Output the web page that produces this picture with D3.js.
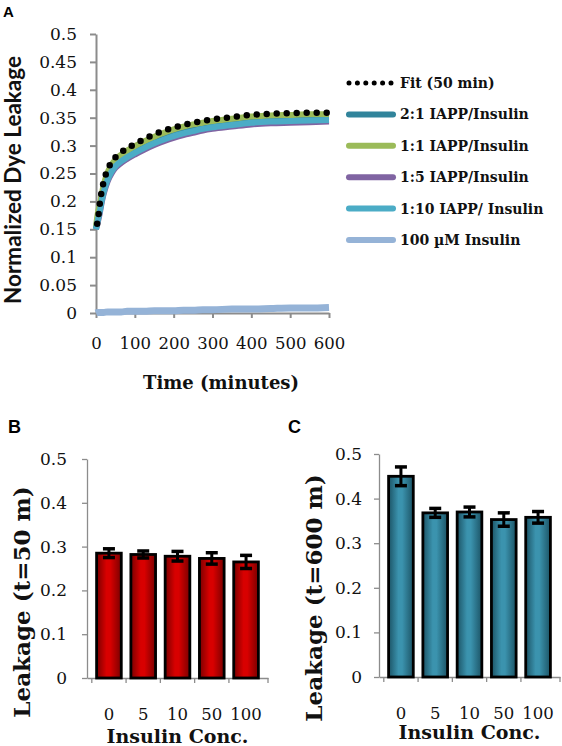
<!DOCTYPE html>
<html><head><meta charset="utf-8">
<script src="https://cdn.jsdelivr.net/npm/d3@7"></script>
<style>body{margin:0;background:#fff}svg{display:block}</style>
</head><body>
<script>
// ---------- data ----------
const timeFit  = [3, 6, 10, 15, 20, 30, 40, 50, 65, 80, 100, 125, 150, 175, 200, 225, 250, 275, 300, 350, 400, 450, 500, 550, 600];
const fitValues = [0.160, 0.173, 0.197, 0.220, 0.236, 0.257, 0.270, 0.279, 0.288, 0.295, 0.303, 0.312, 0.320, 0.327, 0.332, 0.337, 0.341, 0.344, 0.347, 0.351, 0.355, 0.357, 0.358, 0.359, 0.359];
const timeData = [0, 5, 10, 15, 20, 30, 40, 50, 65, 80, 100, 125, 150, 175, 200, 225, 250, 275, 300, 350, 400, 450, 500, 550, 600];
const ratio2to1  = [0.152, 0.172, 0.188, 0.207, 0.222, 0.244, 0.258, 0.268, 0.277, 0.284, 0.292, 0.301, 0.309, 0.316, 0.322, 0.327, 0.331, 0.335, 0.338, 0.342, 0.346, 0.348, 0.349, 0.350, 0.351];
const ratio1to1  = [0.155, 0.180, 0.195, 0.214, 0.230, 0.252, 0.266, 0.275, 0.284, 0.291, 0.299, 0.308, 0.316, 0.323, 0.329, 0.334, 0.338, 0.341, 0.344, 0.348, 0.352, 0.354, 0.355, 0.356, 0.356];
const ratio1to5  = [0.150, 0.164, 0.180, 0.199, 0.214, 0.236, 0.250, 0.260, 0.269, 0.276, 0.284, 0.293, 0.301, 0.308, 0.314, 0.319, 0.323, 0.327, 0.330, 0.334, 0.338, 0.340, 0.341, 0.342, 0.343];
const ratio1to10 = [0.150, 0.167, 0.183, 0.202, 0.217, 0.239, 0.253, 0.263, 0.272, 0.279, 0.287, 0.296, 0.304, 0.311, 0.317, 0.322, 0.326, 0.330, 0.333, 0.337, 0.341, 0.343, 0.344, 0.345, 0.346];
const insulinOnly = [0.000, 0.001, 0.001, 0.001, 0.001, 0.002, 0.002, 0.002, 0.002, 0.003, 0.003, 0.003, 0.004, 0.004, 0.004, 0.005, 0.005, 0.006, 0.006, 0.007, 0.007, 0.008, 0.009, 0.009, 0.010];
const legendNames = ["Fit (50 min)", "2:1 IAPP/Insulin", "1:1 IAPP/Insulin", "1:5 IAPP/Insulin", "1:10 IAPP/ Insulin", "100 \u00B5M Insulin"];
const yTicksA = [0, 0.05, 0.1, 0.15, 0.2, 0.25, 0.3, 0.35, 0.4, 0.45, 0.5];
const xTicksA = [0, 100, 200, 300, 400, 500, 600];

const concentrations = ["0", "5", "10", "50", "100"];
const leak50 = [0.285, 0.282, 0.278, 0.273, 0.265];
const leak50Err = [0.010, 0.008, 0.011, 0.013, 0.015];
const leak600 = [0.450, 0.368, 0.370, 0.353, 0.358];
const leak600Err = [0.021, 0.010, 0.011, 0.015, 0.013];
const yTicksBar = [0, 0.1, 0.2, 0.3, 0.4, 0.5];

// ---------- styles ----------
const colors = {fit: "#000", r21: "#31849B", r11: "#9BBB59", r15: "#8064A2", r110: "#4BACC6", ins: "#95B3D7"};
const serif = "'DejaVu Serif', serif";
const axisGray = "#8c8c8c";

const svg = d3.select("body").append("svg").attr("width", 562).attr("height", 746);
const defs = svg.append("defs");
function grad(id, edge, mid) {
  const g = defs.append("linearGradient").attr("id", id).attr("x1", 0).attr("x2", 1).attr("y1", 0).attr("y2", 0);
  [[0, edge], [0.4, mid], [0.55, mid], [1, edge]].forEach(([o, c]) => g.append("stop").attr("offset", o).attr("stop-color", c));
}
grad("redGrad", "#7a0000", "#d80000");
grad("tealGrad", "#1c5466", "#3b93ae");

function styleAxis(g, w) {
  g.select(".domain").attr("stroke", axisGray).attr("stroke-width", w);
  g.selectAll(".tick line").attr("stroke", axisGray).attr("stroke-width", w);
  g.selectAll(".tick text").attr("font-family", serif).attr("fill", "#111");
}

// ---------- Panel A ----------
const xA = d3.scaleLinear().domain([0, 600]).range([96, 329]);
const yA = d3.scaleLinear().domain([0, 0.5]).range([313, 34]);

svg.append("text").attr("x", 3).attr("y", 17).text("A")
  .attr("font-family", "'Liberation Sans', Arial, sans-serif").attr("font-weight", "bold").attr("font-size", 15);

const gyA = svg.append("g").attr("transform", "translate(96,0)")
  .call(d3.axisLeft(yA).tickValues(yTicksA).tickFormat(String).tickSize(6).tickSizeOuter(0).tickPadding(13));
styleAxis(gyA, 2);
gyA.selectAll(".tick text").attr("font-size", 17);

const gxA = svg.append("g").attr("transform", "translate(0,313)")
  .call(d3.axisBottom(xA).tickValues(xTicksA).tickFormat(String).tickSize(5).tickSizeOuter(0).tickPadding(19));
styleAxis(gxA, 2);
gxA.selectAll(".tick text").attr("font-size", 16.5);

const lineData = d3.line().x((d, i) => xA(timeData[i])).y(d => yA(d)).curve(d3.curveMonotoneX);
const lineFit = d3.line().x((d, i) => xA(timeFit[i])).y(d => yA(d)).curve(d3.curveMonotoneX);

[[insulinOnly, colors.ins, 7], [ratio1to5, colors.r15, 6], [ratio2to1, colors.r21, 6], [ratio1to1, colors.r11, 6], [ratio1to10, colors.r110, 6]]
  .forEach(([vals, c, w]) => svg.append("path").attr("d", lineData(vals)).attr("fill", "none")
    .attr("stroke", c).attr("stroke-width", w).attr("stroke-linejoin", "round"));
svg.append("path").attr("d", lineFit(fitValues)).attr("fill", "none").attr("stroke", "#000")
  .attr("stroke-width", 6.5).attr("stroke-linecap", "round").attr("stroke-dasharray", "0 10");

svg.append("text").attr("transform", "translate(21,180) rotate(-90)").attr("text-anchor", "middle")
  .attr("font-family", "Lato, sans-serif").attr("font-weight", "bold").attr("font-size", 22.5)
  .attr("fill", "#111").text("Normalized Dye Leakage");
svg.append("text").attr("x", 221).attr("y", 389).attr("text-anchor", "middle")
  .attr("font-family", serif).attr("font-weight", "bold").attr("font-size", 18).attr("fill", "#111")
  .text("Time (minutes)");

// legend
const legendColors = [colors.fit, colors.r21, colors.r11, colors.r15, colors.r110, colors.ins];
legendNames.forEach((name, i) => {
  const y = 83 + i * 31.4;
  if (i === 0) {
    svg.append("line").attr("x1", 349).attr("x2", 392).attr("y1", y).attr("y2", y)
      .attr("stroke", "#000").attr("stroke-width", 5).attr("stroke-linecap", "round").attr("stroke-dasharray", "0 8.4");
  } else {
    svg.append("line").attr("x1", 349).attr("x2", 393).attr("y1", y).attr("y2", y)
      .attr("stroke", legendColors[i]).attr("stroke-width", 6).attr("stroke-linecap", "round");
  }
  svg.append("text").attr("x", 400).attr("y", y + 5).text(name)
    .attr("font-family", serif).attr("font-weight", "bold").attr("font-size", 14).attr("fill", "#111");
});

// ---------- Bar panels ----------
function barPanel(opt) {
  const x = d3.scaleBand().domain(concentrations).range([opt.x0, opt.x1]).padding(0.28);
  const y = d3.scaleLinear().domain([0, 0.5]).range([opt.y0, opt.y1]);
  svg.append("text").attr("x", opt.lx).attr("y", 433).text(opt.letter)
    .attr("font-family", "'Liberation Sans', Arial, sans-serif").attr("font-weight", "bold").attr("font-size", 18);

  const gy = svg.append("g").attr("transform", `translate(${opt.x0},0)`)
    .call(d3.axisLeft(y).tickValues(yTicksBar).tickFormat(String).tickSize(5).tickSizeOuter(0).tickPadding(opt.pad));
  styleAxis(gy, 1.3);
  gy.selectAll(".tick text").attr("font-size", 17);

  const gx = svg.append("g").attr("transform", `translate(0,${opt.y0})`)
    .call(d3.axisBottom(x).tickSize(0).tickPadding(30));
  styleAxis(gx, 1.3);
  gx.selectAll(".tick text").attr("font-size", 16.5);
  // category boundary ticks
  const bounds = concentrations.map(c => x(c) - x.step() * x.paddingInner() / 2).concat([opt.x1]);
  bounds.forEach(b => svg.append("line").attr("x1", b).attr("x2", b).attr("y1", opt.y0).attr("y2", opt.y0 + 5)
    .attr("stroke", axisGray).attr("stroke-width", 1.3));

  concentrations.forEach((c, i) => {
    svg.append("rect").attr("x", x(c)).attr("y", y(opt.vals[i])).attr("width", x.bandwidth())
      .attr("height", y(0) - y(opt.vals[i])).attr("fill", `url(#${opt.grad})`)
      .attr("stroke", "#000").attr("stroke-width", 2.8);
    const cx = x(c) + x.bandwidth() / 2;
    const hi = y(opt.vals[i] + opt.errs[i]), lo = y(opt.vals[i] - opt.errs[i]);
    svg.append("line").attr("x1", cx).attr("x2", cx).attr("y1", hi).attr("y2", lo).attr("stroke", "#000").attr("stroke-width", 3);
    [hi, lo].forEach(v => svg.append("line").attr("x1", cx - 6).attr("x2", cx + 6).attr("y1", v).attr("y2", v)
      .attr("stroke", "#000").attr("stroke-width", 3.5));
  });

  svg.append("text").attr("transform", `translate(${opt.tx},${opt.ty}) rotate(-90)`).attr("text-anchor", "middle")
    .attr("font-family", serif).attr("font-weight", "bold").attr("font-size", 23).attr("fill", "#111").text(opt.title);
  svg.append("text").attr("x", (opt.x0 + opt.x1) / 2).attr("y", opt.cy).attr("text-anchor", "middle")
    .attr("font-family", serif).attr("font-weight", "bold").attr("font-size", 19).attr("fill", "#111").text("Insulin Conc.");
}

barPanel({letter: "B", lx: 8, x0: 87, x1: 268, y0: 678, y1: 459, pad: 15, vals: leak50, errs: leak50Err,
  grad: "redGrad", title: "Leakage (t=50 m)", tx: 30, ty: 602, cy: 743});
barPanel({letter: "C", lx: 288, x0: 379, x1: 560, y0: 677, y1: 454, pad: 12, vals: leak600, errs: leak600Err,
  grad: "tealGrad", title: "Leakage (t=600 m)", tx: 322, ty: 598, cy: 739});
</script>
</body></html>
